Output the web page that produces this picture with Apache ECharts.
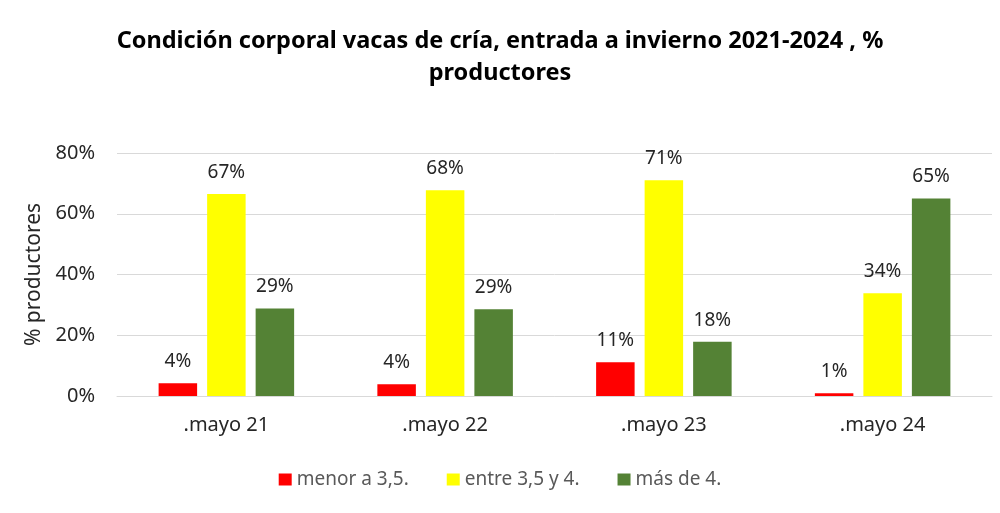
<!DOCTYPE html>
<html><head><meta charset="utf-8">
<script src="https://cdn.jsdelivr.net/npm/echarts@6/dist/echarts.min.js"></script>
<style>html,body{margin:0;padding:0;background:#fff}#c{width:1000px;height:513px}</style>
</head><body><div id="c"></div>
<script>
const categories = ['.mayo 21', '.mayo 22', '.mayo 23', '.mayo 24'];
const seriesNames = ['menor a 3,5.', 'entre 3,5 y 4.', 'más de 4.'];
const menor = [4.2, 3.9, 11.1, 0.9];
const entre = [66.5, 67.7, 71.0, 33.8];
const mas = [28.8, 28.6, 17.9, 65.0];
const yTicks = [0, 20, 40, 60, 80];
const colors = ['#FF0000', '#FFFF00', '#548235'];
const titleLines = ['Condición corporal vacas de cría, entrada a invierno 2021-2024 , %', 'productores'];

const chart = echarts.init(document.getElementById('c'), null, {renderer: 'canvas'});
const labelStyle = {show: true, position: 'top', distance: 12, fontFamily: 'Noto Sans', fontSize: 19, color: '#262626',
  formatter: p => Math.round(p.value) + '%'};
const mk = (name, data, color) => ({
  name, type: 'bar', data, itemStyle: {color}, barWidth: '17.6%', barGap: '26%', label: labelStyle
});
const titleStyle = {fontFamily: 'Noto Sans', fontWeight: 'bold', fontSize: 23.5, color: '#000'};
chart.setOption({
  animation: false,
  title: [
    {text: titleLines[0], left: 'center', top: 24, textStyle: titleStyle},
    {text: titleLines[1], left: 'center', top: 56, textStyle: titleStyle}
  ],
  legend: {top: 465, left: 'center', itemWidth: 13, itemHeight: 12, itemGap: 38, icon: 'rect',
    textStyle: {fontFamily: 'Noto Sans', fontSize: 19, color: '#595959'}, data: seriesNames},
  grid: {left: 117, right: 8, top: 153, bottom: 117},
  xAxis: {type: 'category', data: categories,
    axisLine: {lineStyle: {color: '#d9d9d9'}}, axisTick: {show: false},
    axisLabel: {fontFamily: 'Noto Sans', fontSize: 20, color: '#262626', margin: 19}},
  yAxis: {type: 'value', min: yTicks[0], max: yTicks[yTicks.length-1], interval: 20,
    name: '% productores', nameLocation: 'middle', nameGap: 70, nameRotate: 90,
    nameTextStyle: {fontFamily: 'Noto Sans', fontSize: 21, color: '#262626'},
    axisLabel: {fontFamily: 'Noto Sans', fontSize: 20, color: '#262626', margin: 22, formatter: v => v + '%'},
    splitLine: {lineStyle: {color: '#d9d9d9'}}, axisLine: {show: false}, axisTick: {show: false}},
  series: [mk(seriesNames[0], menor, colors[0]), mk(seriesNames[1], entre, colors[1]), mk(seriesNames[2], mas, colors[2])]
});
</script></body></html>
